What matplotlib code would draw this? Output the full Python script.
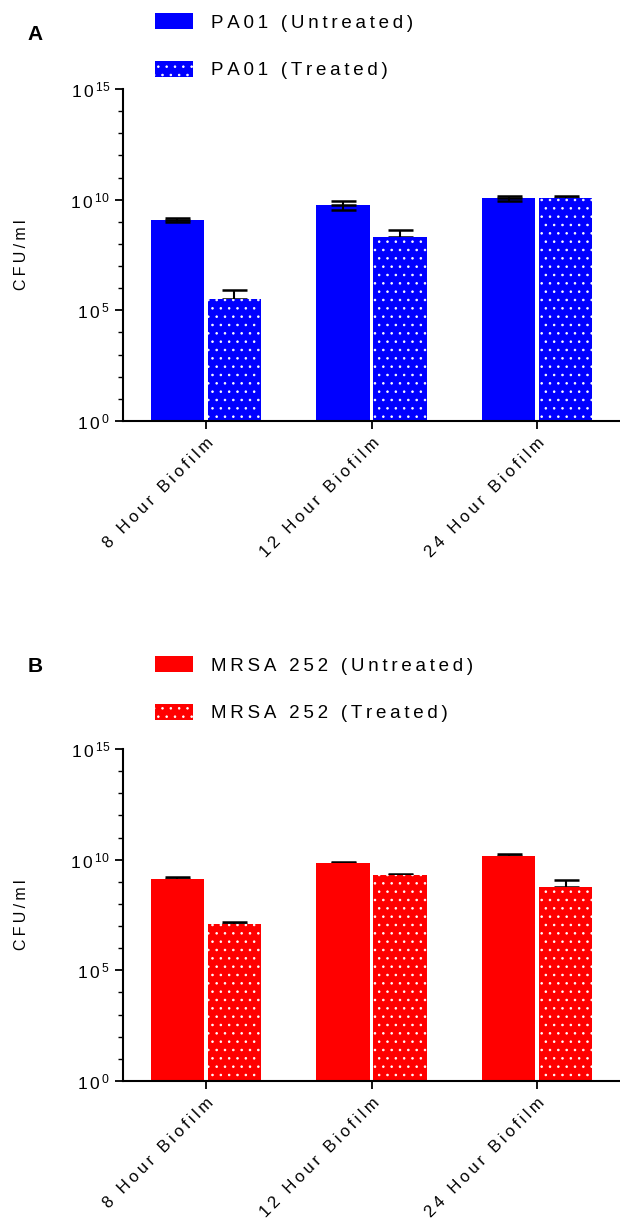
import matplotlib
matplotlib.use('Agg')
import matplotlib.pyplot as plt
import numpy as np

plt.rcParams['font.family'] = ['Liberation Sans', 'DejaVu Sans']
plt.rcParams['mathtext.fontset'] = 'custom'
plt.rcParams['mathtext.rm'] = 'Liberation Sans'
plt.rcParams['hatch.color'] = 'white'
plt.rcParams['hatch.linewidth'] = 0.6

# data
groups = ['8 Hour Biofilm', '12 Hour Biofilm', '24 Hour Biofilm']

pa_untreated = [1.2e9, 5.9e9, 1.2e10]
pa_untreated_err = [2.5e8, 2.5e9, 3.0e9]
pa_treated = [3.3e5, 2.1e8, 1.2e10]
pa_treated_err = [5.4e5, 2.0e8, 2.8e9]

mrsa_untreated = [1.35e9, 7.1e9, 1.48e10]
mrsa_untreated_err = [3.0e8, 1.0e9, 2.6e9]
mrsa_treated = [1.23e7, 2.04e9, 5.75e8]
mrsa_treated_err = [2.8e6, 3.0e8, 6.8e8]

yticks = [1e0, 1e5, 1e10, 1e15]
ytick_labels = [r'$\mathregular{1\,0^{\,0}}$', r'$\mathregular{1\,0^{\,5}}$',
                r'$\mathregular{1\,0^{\,10}}$', r'$\mathregular{1\,0^{\,15}}$']


def spaced(s):
    return '\u2009'.join(s)


def panel(fig, rect, unt, unt_err, tr, tr_err, both_sides, color, names, letter, letter_y, leg_y):
    ax = fig.add_axes(rect)
    x = np.arange(len(groups))
    w = 0.32
    off = 0.172
    lo = unt_err if both_sides else [0] * len(unt)
    ax.errorbar(x - off, unt, yerr=[lo, unt_err], fmt='none', ecolor='black',
                elinewidth=1.5, capsize=9, capthick=1.8, zorder=1)
    ax.errorbar(x + off, tr, yerr=[[0] * len(tr), tr_err], fmt='none', ecolor='black',
                elinewidth=1.5, capsize=9, capthick=1.8, zorder=1)
    b1 = ax.bar(x - off, unt, w, bottom=1, color=color, linewidth=0, zorder=2, label=spaced(names[0]))
    b2 = ax.bar(x + off, tr, w, bottom=1, color=color, edgecolor='white', linewidth=0,
                hatch='..', zorder=2, label=spaced(names[1]))
    if both_sides:
        # lower caps shown over the untreated bars
        ax.errorbar(x - off, unt, yerr=[unt_err, [0] * len(unt)], fmt='none', ecolor='black',
                    elinewidth=1.5, capsize=9, capthick=1.8, zorder=3)

    ax.set_yscale('log')
    ax.set_ylim(1, 1e15)
    ax.set_xlim(-0.5, 2.5)
    ax.set_yticks(yticks)
    ax.set_yticklabels(ytick_labels, fontsize=12.5)
    ax.set_yticks([10.0 ** i for i in range(16)], minor=True)
    ax.yaxis.set_minor_formatter(matplotlib.ticker.NullFormatter())
    ax.tick_params(axis='y', which='major', length=6, width=1.3)
    ax.tick_params(axis='y', which='minor', length=3.5, width=1.0)
    ax.set_xticks(x)
    ax.set_xticklabels([spaced(g) for g in groups], rotation=45, ha='right',
                       rotation_mode='anchor', fontsize=12)
    ax.tick_params(axis='x', length=6, width=1.3, pad=4)
    ax.spines['top'].set_visible(False)
    ax.spines['right'].set_visible(False)
    ax.spines['left'].set_linewidth(1.5)
    ax.spines['bottom'].set_linewidth(1.5)
    ax.set_ylabel(spaced('CFU/ml'), fontsize=11.5)
    ax.yaxis.set_label_coords(-0.19, 0.5)

    fig.text(0.045, letter_y, letter, fontsize=15, fontweight='bold', va='center')
    fig.legend(handles=[b1, b2], loc='upper left', bbox_to_anchor=(155 / 620, leg_y),
               frameon=False, fontsize=13.5, borderpad=0, borderaxespad=0,
               handlelength=2.0, handleheight=0.95, handletextpad=1.0, labelspacing=1.55)
    return ax


fig = plt.figure(figsize=(6.2, 12.24), dpi=100)

panel(fig, [123 / 620, 1 - 421 / 1224, 1 - 123 / 620, 332 / 1224],
      pa_untreated, pa_untreated_err, pa_treated, pa_treated_err, True, '#0000ff',
      ['PA01 (Untreated)', 'PA01 (Treated)'], 'A', 1 - 34 / 1224, 1 - 13 / 1224)

panel(fig, [123 / 620, 1 - 1081 / 1224, 1 - 123 / 620, 332 / 1224],
      mrsa_untreated, mrsa_untreated_err, mrsa_treated, mrsa_treated_err, False, '#ff0000',
      ['MRSA 252 (Untreated)', 'MRSA 252 (Treated)'], 'B', 1 - 666 / 1224, 1 - 656 / 1224)

fig.savefig('out.png', dpi=100)
